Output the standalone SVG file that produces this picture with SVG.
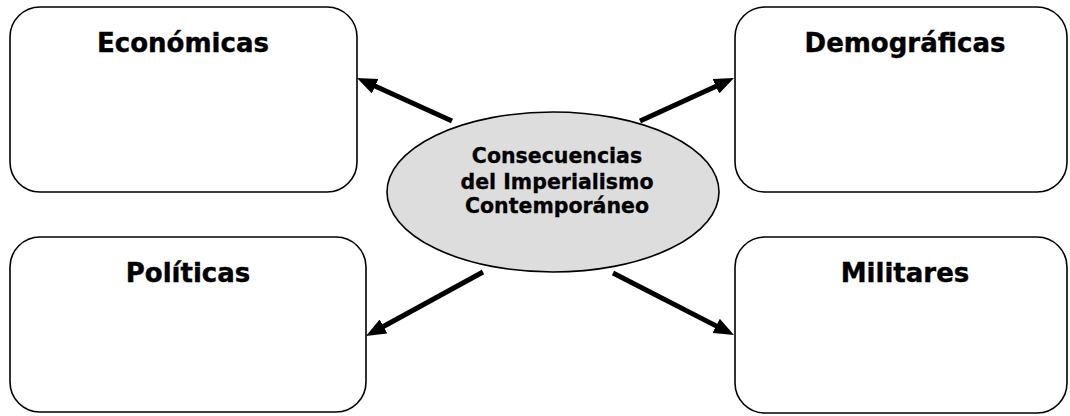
<svg xmlns="http://www.w3.org/2000/svg" width="1070" height="416" viewBox="0 0 1070 416">
<style>
.box{fill:#ffffff;stroke:#000000;stroke-width:1.6}
.ttl{font-family:"DejaVu Sans","Liberation Sans",sans-serif;font-weight:bold;font-size:26px;fill:#000000;stroke:#000000;stroke-width:0.4;text-anchor:middle}
.ctr{font-family:"DejaVu Sans","Liberation Sans",sans-serif;font-weight:bold;font-size:20.5px;fill:#000000;stroke:#000000;stroke-width:0.3;text-anchor:middle}
.arr{stroke:#000000;stroke-width:5;fill:none;marker-end:url(#ah)}
</style>
<defs>
<marker id="ah" markerUnits="userSpaceOnUse" viewBox="0 0 20 16" markerWidth="20" markerHeight="16" refX="7" refY="8" orient="auto">
<path d="M0,0 L20,8 L0,16 z" fill="#000000"/>
</marker>
</defs>
<rect width="1070" height="416" fill="#ffffff"/>
<g id="economicas">
<rect class="box" x="10" y="7" width="347" height="185" rx="30" ry="30"/>
<text class="ttl" x="183" y="52">Económicas</text>
</g>
<g id="demograficas">
<rect class="box" x="735" y="7" width="332" height="185" rx="30" ry="30"/>
<text class="ttl" x="905" y="52">Demográficas</text>
</g>
<g id="politicas">
<rect class="box" x="10" y="237" width="356" height="175" rx="30" ry="30"/>
<text class="ttl" x="188" y="282">Políticas</text>
</g>
<g id="militares">
<rect class="box" x="735" y="237" width="332" height="176" rx="30" ry="30"/>
<text class="ttl" x="905" y="282">Militares</text>
</g>
<g id="connectors">
<line class="arr" x1="452" y1="121" x2="368.8" y2="83.3"/>
<line class="arr" x1="640" y1="121" x2="722.2" y2="83.4"/>
<line class="arr" x1="483" y1="272" x2="377.4" y2="329.8"/>
<line class="arr" x1="613" y1="273" x2="722.4" y2="329.1"/>
</g>
<g id="centro">
<ellipse cx="553" cy="192" rx="166" ry="80" fill="#dddddd" stroke="#000000" stroke-width="1.6"/>
<text class="ctr" x="557" y="163">Consecuencias</text>
<text class="ctr" x="557" y="189">del Imperialismo</text>
<text class="ctr" x="557" y="213">Contemporáneo</text>
</g>
</svg>
